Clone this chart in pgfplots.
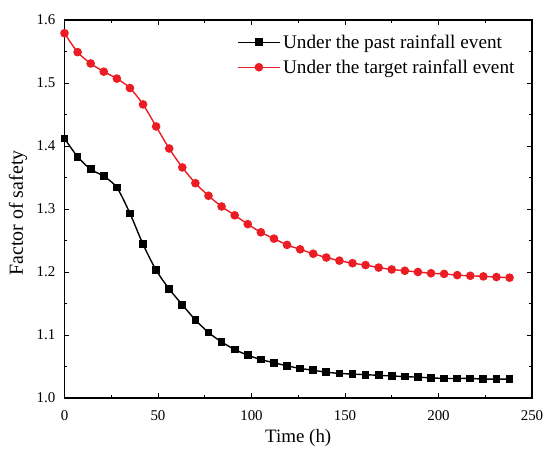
\documentclass[border=0pt]{standalone}
\usepackage{pgfplots}
\pgfplotsset{compat=1.18}
\usepackage{fontspec}
\setmainfont{Liberation Serif}
\definecolor{myred}{RGB}{236,28,36}
\begin{document}
\begin{tikzpicture}
\begin{axis}[
  scale only axis,
  width=467.5bp, height=378bp,
  xmin=0, xmax=250, ymin=1.0, ymax=1.6,
  xtick={0,50,...,250},
  ytick={1.0,1.1,1.2,1.3,1.4,1.5,1.6},
  minor x tick num=1, minor y tick num=1,
  tick align=inside,
  major tick length=5bp, minor tick length=3bp,
  axis line style={line width=1.1pt},
  every tick/.style={line width=0.9pt, black},
  /pgf/number format/assume math mode=true,
  yticklabel style={/pgf/number format/fixed, /pgf/number format/fixed zerofill, /pgf/number format/precision=1},
  ticklabel style={font=\fontsize{15}{17}\selectfont},
  yticklabel style={anchor=east, inner sep=0pt, xshift=-9bp},
  xticklabel style={anchor=north, inner sep=0pt, yshift=-12bp},
  xlabel={Time (h)}, ylabel={Factor of safety},
  every axis x label/.style={at={(axis description cs:0.5,0)}, anchor=center, yshift=-40bp, font=\fontsize{19}{22}\selectfont},
  every axis y label/.style={at={(axis description cs:0,0.5)}, rotate=90, anchor=center, yshift=46.5bp, xshift=-4bp, font=\fontsize{20}{23}\selectfont},
  legend style={draw=none, fill=none, at={(rel axis cs:0.369,1)}, anchor=north west, yshift=-12bp,
    inner sep=0pt, font=\fontsize{19.3}{22}\selectfont, row sep=5bp,
    nodes={inner sep=2.5bp}},
  legend cell align=left,
  legend image code/.code={\draw[mark repeat=2,mark phase=2,#1] plot coordinates {(0bp,0bp) (21bp,0bp) (42bp,0bp)};},
]
\addplot[black, line width=1.4pt, smooth, mark=square*, mark size=3.2pt, mark options={solid}] coordinates {
(0,1.412) (7,1.383) (14,1.363) (21,1.352) (28,1.334) (35,1.293) (42,1.244) (49,1.203)
(56,1.173) (63,1.148) (70,1.124) (77,1.104) (84,1.089) (91,1.077) (98,1.068) (105,1.061)
(112,1.056) (119,1.051) (126,1.047) (133,1.044) (140,1.041) (147,1.039) (154,1.038) (161,1.037)
(168,1.036) (175,1.035) (182,1.034) (189,1.033) (196,1.032) (203,1.031) (210,1.031) (217,1.031)
(224,1.030) (231,1.030) (238,1.030)
};
\addlegendentry{Under the past rainfall event}
\addplot[myred, line width=1.4pt, smooth, mark=*, mark size=3.6pt, mark options={solid}] coordinates {
(0,1.579) (7,1.549) (14,1.531) (21,1.518) (28,1.507) (35,1.492) (42,1.466) (49,1.431)
(56,1.396) (63,1.366) (70,1.341) (77,1.321) (84,1.304) (91,1.290) (98,1.276) (105,1.263)
(112,1.253) (119,1.243) (126,1.236) (133,1.229) (140,1.223) (147,1.218) (154,1.214) (161,1.211)
(168,1.207) (175,1.204) (182,1.202) (189,1.200) (196,1.198) (203,1.197) (210,1.195) (217,1.194)
(224,1.193) (231,1.192) (238,1.191)
};
\addlegendentry{Under the target rainfall event}
\end{axis}
\path (current axis.south west) ++(-64.5bp,-54bp) coordinate (bbA);
\path (current axis.north east) ++(12bp,20bp) coordinate (bbB);
\path (bbA) rectangle (bbB);
\end{tikzpicture}
\end{document}
